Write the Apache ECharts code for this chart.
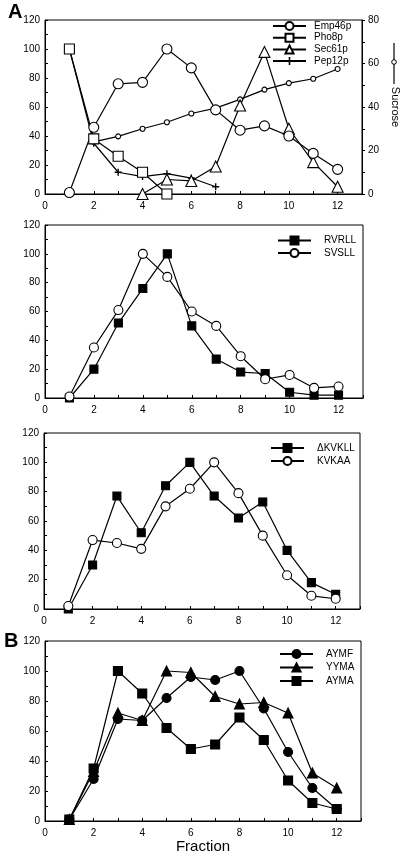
<!DOCTYPE html>
<html>
<head>
<meta charset="utf-8">
<script src="https://cdn.jsdelivr.net/npm/echarts@6/dist/echarts.min.js"></script>
<style>html,body{margin:0;padding:0;background:#fff}#c{width:400px;height:859px}</style>
</head>
<body>
<div id="c"></div>
<script>
// ---------- data ----------
const fractions = [1,2,3,4,5,6,7,8,9,10,11,12];
const xTickLabels = [0,2,4,6,8,10,12];
const yTickLabels = [0,20,40,60,80,100,120];
const sucroseTickLabels = [0,20,40,60,80];

// Panel A top
const emp46p  = [1, 46, 76, 77, 100, 87, 58, 44, 47, 40, 28, 17];
const pho8p   = [100, 38, 26, 15, 0, null, null, null, null, null, null, null];
const sec61p  = [null, null, null, 0, 10, 9, 19, 61, 98, 45, 22, 5];
const pep12p  = [100, 35, 15, 12, 14, 11, 5, null, null, null, null, null];
const sucrose = [null, 24, 26.5, 30, 33, 37, 39.5, 43.5, 48, 51, 53, 57.5];

// Panel A middle
const rvrll = [0, 20, 52, 76, 100, 50, 27, 18, 17, 4, 2, 2];
const svsll = [1, 35, 61, 100, 84, 60, 50, 29, 13, 16, 7, 8];

// Panel A bottom
const dkvkll = [0, 30, 77, 52, 84, 100, 77, 62, 73, 40, 18, 10];
const kvkaa  = [2, 47, 45, 41, 70, 82, 100, 79, 50, 23, 9, 7];

// Panel B
const aymf = [1, 28, 68, 67, 82, 96, 94, 100, 75, 46, 22, 8];
const yyma = [1, 33, 72, 67, 100, 99, 83, 78, 79, 72, 32, 22];
const ayma = [1, 35, 100, 85, 62, 48, 51, 69, 54, 27, 12, 8];

// ---------- helpers ----------
const pairs = arr => fractions.map((f, i) => [f, arr[i]]);
const FONT = 'Liberation Sans';
const plus = 'path://M4,0H6V4H10V6H6V10H4V6H0V4H4Z';

const grids = [
  {left: 45, top: 20, width: 317, height: 174},
  {left: 45, top: 225, width: 318, height: 173},
  {left: 44, top: 433, width: 316, height: 176},
  {left: 45, top: 641, width: 316, height: 180}
];

function xAxis(i, extra) {
  return Object.assign({
    type: 'value', gridIndex: i, min: 0, max: 13, interval: 1,
    axisLine: {lineStyle: {color: '#000', width: 1}},
    axisTick: {inside: true, length: 3, lineStyle: {color: '#000'}},
    splitLine: {show: false},
    axisLabel: {color: '#000', fontFamily: FONT, fontSize: 10, margin: 7,
      formatter: v => xTickLabels.indexOf(v) >= 0 ? String(v) : ''}
  }, extra || {});
}
function yAxis(i, extra) {
  return Object.assign({
    type: 'value', gridIndex: i, min: 0, max: 120, interval: 10,
    axisLine: {show: true, lineStyle: {color: '#000', width: 1}},
    axisTick: {show: true, inside: true, length: 3, lineStyle: {color: '#000'}},
    splitLine: {show: false},
    axisLabel: {color: '#000', fontFamily: FONT, fontSize: 10, margin: 5,
      formatter: v => yTickLabels.indexOf(v) >= 0 ? String(v) : ''}
  }, extra || {});
}

const lineBase = {type: 'line', lineStyle: {color: '#000', width: 1.2}, z: 3};
function ser(name, data, xi, yi, symbol, size, fill, extra) {
  return Object.assign({}, lineBase, {
    name, data: pairs(data), xAxisIndex: xi, yAxisIndex: yi,
    symbol, symbolSize: size, showSymbol: true,
    itemStyle: {color: fill, borderColor: '#000', borderWidth: 1.1},
    emphasis: {disabled: true}, animation: false
  }, extra || {});
}

function legend(names, left, top, gap, textPad, h) {
  return {
    data: names, orient: 'vertical', left, top, padding: 0,
    itemWidth: 33, itemHeight: h, itemGap: gap,
    selectedMode: false,
    textStyle: {color: '#000', fontFamily: FONT, fontSize: 10, lineHeight: 11, padding: [0,0,0,textPad]}
  };
}

const option = {
  backgroundColor: '#fff',
  animation: false,
  grid: grids.map(g => Object.assign({show: true, borderColor: '#000', borderWidth: 1, containLabel: false, outerBoundsMode: 'none'}, g)),
  xAxis: [
    xAxis(0), xAxis(1), xAxis(2),
    xAxis(3, {name: 'Fraction', nameLocation: 'middle', nameGap: 18,
      nameTextStyle: {color: '#000', fontFamily: FONT, fontSize: 15}})
  ],
  yAxis: [
    yAxis(0),
    {
      type: 'value', gridIndex: 0, min: 0, max: 80, interval: 10, position: 'right',
      axisLine: {show: true, lineStyle: {color: '#000', width: 1}},
      axisTick: {show: true, inside: false, length: 3, lineStyle: {color: '#000'}},
      splitLine: {show: false},
      axisLabel: {color: '#000', fontFamily: FONT, fontSize: 10, margin: 6,
        formatter: v => sucroseTickLabels.indexOf(v) >= 0 ? String(v) : ''},
      name: 'Sucrose', nameLocation: 'middle', nameRotate: -90, nameGap: 27,
      nameTextStyle: {color: '#000', fontFamily: FONT, fontSize: 11, padding: [0,0,0,0]}
    },
    yAxis(1), yAxis(2), yAxis(3)
  ],
  legend: [
    legend(['Emp46p','Pho8p','Sec61p','Pep12p'], 272, 20.5, 0.7, 3, 10),
    legend(['RVRLL','SVSLL'], 277, 235, 1.6, 8, 10),
    legend(['ΔKVKLL','KVKAA'], 270, 442.5, 2, 8, 10),
    legend(['AYMF','YYMA','AYMA'], 279, 648.5, 2.5, 8, 10)
  ],
  graphic: [
    {type: 'text', left: 8, top: 2, style: {text: 'A', font: 'bold 20px ' + FONT, fill: '#000'}},
    {type: 'text', left: 4, top: 631, style: {text: 'B', font: 'bold 20px ' + FONT, fill: '#000'}},
    {type: 'line', shape: {x1: 394, y1: 43, x2: 394, y2: 84}, style: {stroke: '#000', lineWidth: 1.2}},
    {type: 'circle', shape: {cx: 394, cy: 62, r: 2.3}, style: {fill: '#fff', stroke: '#000', lineWidth: 1}, z: 10}
  ],
  series: [
    ser('Sucrose', sucrose, 0, 1, 'circle', 5, '#fff'),
    ser('Pep12p', pep12p, 0, 0, plus, 7, '#000', {itemStyle: {color: '#000', borderWidth: 0}}),
    ser('Pho8p', pho8p, 0, 0, 'rect', 10, '#fff'),
    ser('Sec61p', sec61p, 0, 0, 'triangle', 11, '#fff'),
    ser('Emp46p', emp46p, 0, 0, 'circle', 10, '#fff'),

    ser('RVRLL', rvrll, 1, 2, 'rect', 8, '#000'),
    ser('SVSLL', svsll, 1, 2, 'circle', 9, '#fff'),

    ser('ΔKVKLL', dkvkll, 2, 3, 'rect', 8, '#000'),
    ser('KVKAA', kvkaa, 2, 3, 'circle', 9, '#fff'),

    ser('AYMF', aymf, 3, 4, 'circle', 9, '#000'),
    ser('YYMA', yyma, 3, 4, 'triangle', 10, '#000'),
    ser('AYMA', ayma, 3, 4, 'rect', 9, '#000')
  ]
};

const chart = echarts.init(document.getElementById('c'), null, {renderer: 'canvas'});
chart.setOption(option);
</script>
</body>
</html>
